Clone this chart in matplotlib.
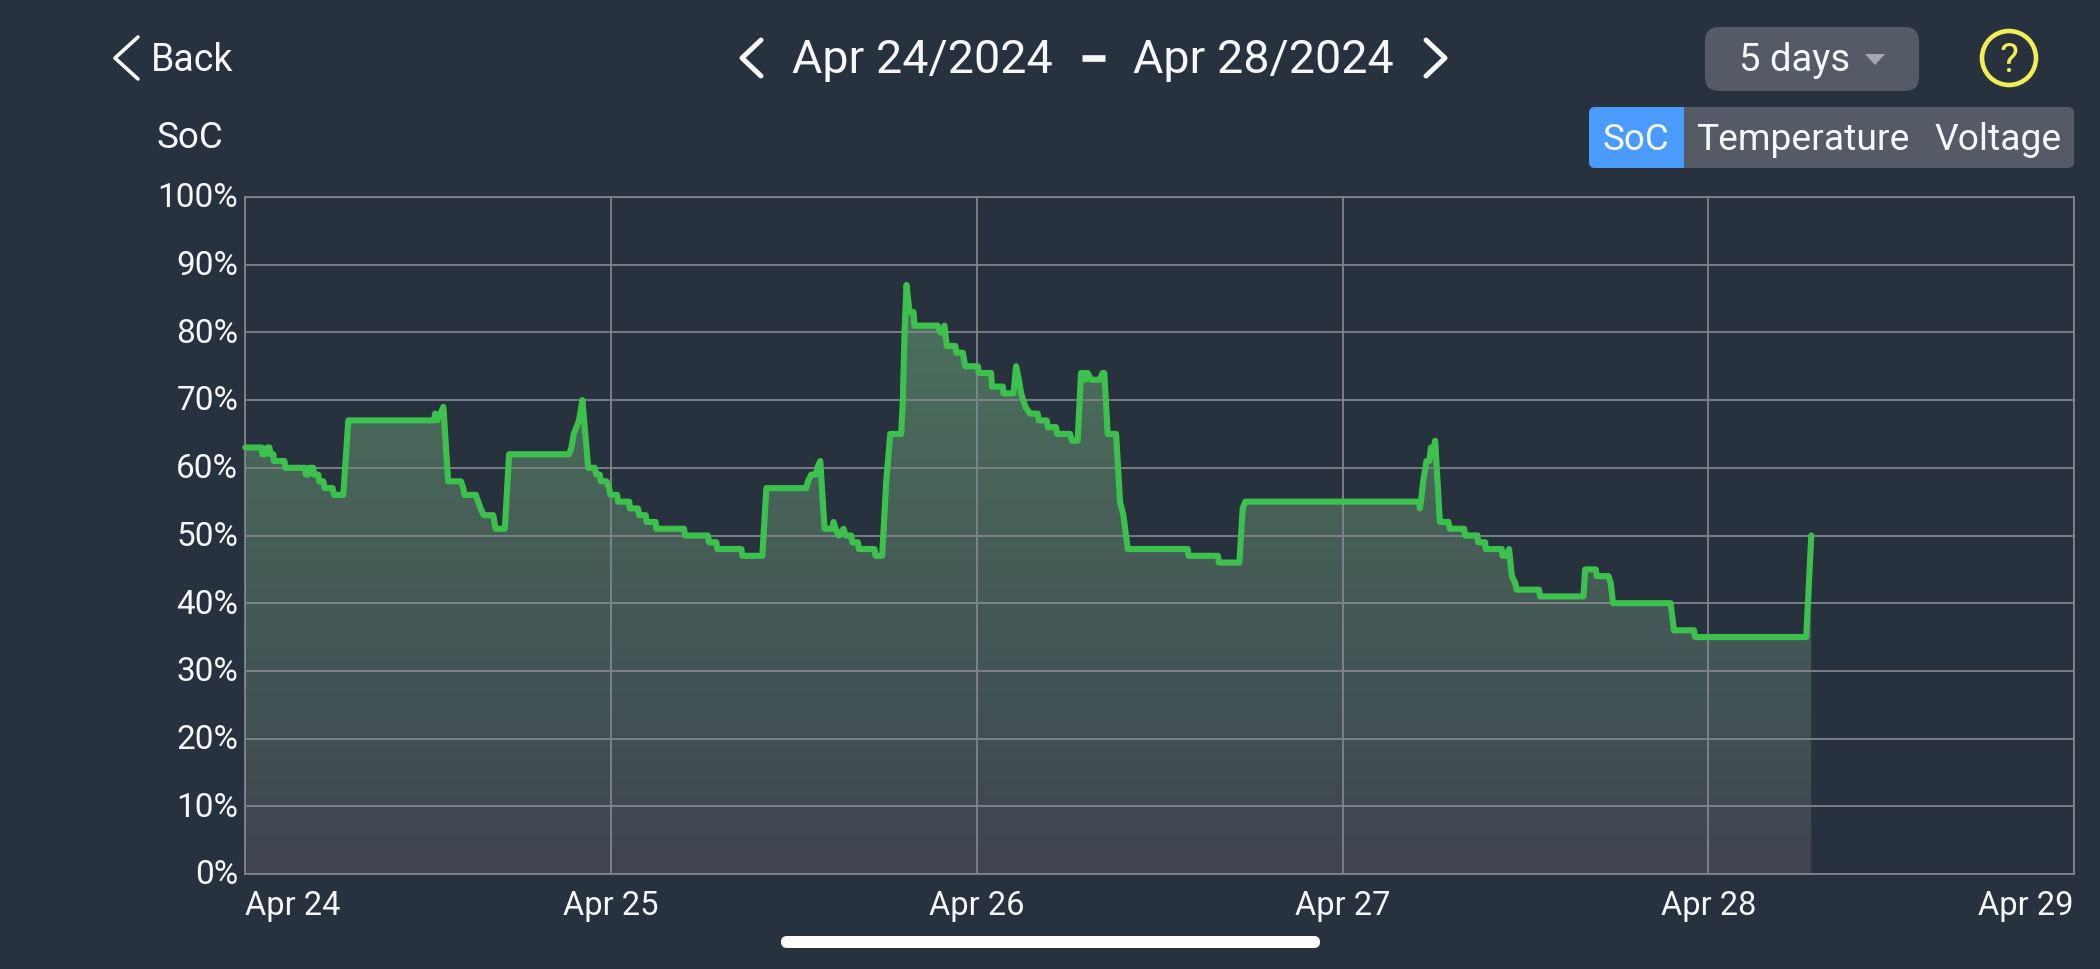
import numpy as np
import matplotlib
matplotlib.use('Agg')
import matplotlib.pyplot as plt
from matplotlib.patches import FancyBboxPatch, Rectangle, Circle, Polygon

# state of charge, hours counted from Apr 24 00:00
hours = [0.0, 1.07, 1.12, 1.31, 1.44, 1.58, 1.66, 1.84, 1.88, 2.56, 2.63, 3.92, 3.98, 4.13, 4.2, 4.46, 4.5, 4.79,
         4.85, 5.12, 5.2, 5.73, 5.82, 6.43, 6.76, 12.37, 12.46, 12.6, 12.8, 13.0, 13.31, 14.15, 14.3, 14.39, 15.13,
         15.28, 15.44, 15.65, 16.27, 16.42, 17.03, 17.31, 21.25, 21.4, 21.55, 21.73, 21.9, 22.12, 22.5, 22.93, 23.04,
         23.26, 23.33, 23.7, 23.87, 23.96, 24.4, 24.46, 25.19, 25.23, 25.77, 25.84, 26.28, 26.32, 26.93, 26.97, 28.79,
         28.85, 30.36, 30.43, 30.91, 30.97, 32.55, 32.61, 33.93, 34.19, 36.81, 36.92, 37.14, 37.47, 37.53, 37.73,
         38.01, 38.52, 38.6, 38.73, 38.95, 39.26, 39.39, 39.76, 39.83, 40.2, 40.26, 41.29, 41.36, 41.79, 42.06, 42.32,
         43.04, 43.15, 43.26, 43.39, 43.59, 43.85, 43.91, 45.44, 45.6, 45.73, 45.88, 46.03, 46.6, 46.65, 47.08, 47.24,
         48.07, 48.13, 48.94, 49.0, 49.71, 49.75, 50.41, 50.58, 50.76, 50.91, 51.19, 51.5, 52.0, 52.07, 52.59, 52.66,
         53.2, 53.27, 54.12, 54.25, 54.62, 54.84, 55.06, 55.13, 55.28, 55.5, 56.05, 56.26, 56.37, 56.59, 57.14, 57.4,
         57.62, 57.91, 61.84, 61.9, 63.83, 63.89, 65.23, 65.45, 65.62, 77.03, 77.07, 77.15, 77.29, 77.51, 77.7, 77.8,
         77.92, 78.08, 78.39, 78.95, 79.04, 79.98, 80.05, 80.86, 80.9, 81.36, 81.4, 82.45, 82.5, 82.76, 82.93, 83.11,
         83.33, 83.43, 84.9, 84.96, 87.81, 87.92, 88.62, 88.68, 89.45, 89.6, 89.75, 93.53, 93.69, 93.75, 95.06, 95.13,
         102.43, 102.76]
soc = [63, 63, 62, 62, 63, 63, 62, 62, 61, 61, 60, 60, 59, 59, 60, 60, 59, 59,
       58, 58, 57, 57, 56, 56, 67, 67, 68, 67, 68, 69, 58, 58, 57, 56, 56,
       55, 54, 53, 53, 51, 51, 62, 62, 63, 65, 66, 67, 70, 60, 60, 59,
       59, 58, 58, 57, 56, 56, 55, 55, 54, 54, 53, 53, 52, 52, 51, 51,
       50, 50, 49, 49, 48, 48, 47, 47, 57, 57, 58, 59, 59, 60, 61,
       51, 51, 52, 51, 50, 51, 50, 50, 49, 49, 48, 48, 47, 47, 58, 65,
       65, 70, 80, 87, 83, 83, 81, 81, 80, 80, 81, 78, 78, 77, 77, 75,
       75, 74, 74, 72, 72, 71, 71, 75, 73, 71, 69, 68, 68, 67, 67, 66,
       66, 65, 65, 64, 64, 74, 74, 73, 74, 73, 73, 74, 74, 65, 65, 55,
       53, 48, 48, 47, 47, 46, 46, 54, 55, 55, 54, 55, 58, 61, 61, 63,
       62, 64, 52, 52, 51, 51, 50, 50, 49, 49, 48, 48, 47, 47, 48, 44,
       43, 42, 42, 41, 41, 45, 45, 44, 44, 43, 40, 40, 37, 36, 36, 35,
       35, 50]

day_labels = ['Apr 24', 'Apr 25', 'Apr 26', 'Apr 27', 'Apr 28', 'Apr 29']
pct_ticks = list(range(0, 101, 10))

BG = '#28313e'
GRID = '#80858c'
GREEN = '#3cc24c'
PANEL = '#545a66'
WHITE = '#f6f7f8'

W, H = 2100, 969
plt.rcParams['font.family'] = ['Roboto', 'DejaVu Sans']

fig = plt.figure(figsize=(W / 100, H / 100), dpi=100, facecolor=BG)

# chart area
left, right, top, bottom = 245.3, 2074, 197, 874
ax = fig.add_axes([left / W, 1 - bottom / H, (right - left) / W, (bottom - top) / H], facecolor=BG)
ax.set_xlim(0, 120)
ax.set_ylim(0, 100)

# filled area fades from green to grey going down
grad = np.linspace(0, 1, 256).reshape(-1, 1)
c_top = np.array([0x4c, 0x73, 0x5d]) / 255
c_bot = np.array([0x3f, 0x44, 0x50]) / 255
# the fade spans 0-87%, the peak of the series
img = c_top + (c_bot - c_top) * grad[..., None]
im = ax.imshow(img, extent=[0, 120, 0, max(soc)], aspect='auto', zorder=1, origin='upper')
poly = Polygon(list(zip(hours, soc)) + [(hours[-1], 0), (hours[0], 0)], closed=True, transform=ax.transData,
               facecolor='none', edgecolor='none')
ax.add_patch(poly)
im.set_clip_path(poly)
ax.set_xlim(0, 120)
ax.set_ylim(0, 100)

ax.set_xticks(range(0, 121, 24))
ax.set_yticks(pct_ticks)
ax.grid(True, color=GRID, lw=1.3, zorder=2)
ax.set_axisbelow(False)
ax.tick_params(length=0, labelbottom=False, labelleft=False)
for s in ax.spines.values():
    s.set_color(GRID)
    s.set_linewidth(1.3)

ax.plot(hours, soc, color=GREEN, lw=4.4, solid_joinstyle='round', solid_capstyle='round', zorder=4, clip_on=False)

# y labels right aligned against the axis, x labels centred on their day
for p in pct_ticks:
    ax.annotate(f'{p}%', (0, p), xytext=(-5, -1), textcoords='offset points', ha='right', va='center',
                fontsize=24, color=WHITE)
for i, lab in enumerate(day_labels):
    ha = 'center'
    xoff = 0
    if i == 0:
        ha, xoff = 'left', 0
    if i == 5:
        ha, xoff = 'right', 0
    ax.annotate(lab, (i * 24, 0), xytext=(xoff, -23), textcoords='offset points', ha=ha, va='center',
                fontsize=23.5, color=WHITE)

# app controls around the chart, laid out in pixels
ui = fig.add_axes([0, 0, 1, 1], facecolor='none')
ui.set_xlim(0, W)
ui.set_ylim(H, 0)
ui.axis('off')


def chevron(x, y, w, h, direction, lw=3.2):
    ui.plot([x + direction * w, x, x + direction * w], [y - h, y, y + h], color=WHITE, lw=lw,
            solid_capstyle='round', solid_joinstyle='round')


def box(x0, y0, x1, y1, color, r=12):
    ui.add_patch(FancyBboxPatch((x0 + r, y0 + r), x1 - x0 - 2 * r, y1 - y0 - 2 * r,
                                boxstyle=f'round,pad={r},rounding_size={r}', fc=color, ec='none'))


chevron(115, 58, 23, 21, 1, lw=2.6)
ui.text(151, 60, 'Back', fontsize=27, color=WHITE, ha='left', va='center')
ui.text(190, 138, 'SoC', fontsize=26.5, color=WHITE, ha='center', va='center')

chevron(742, 58, 19, 18, 1, lw=3.6)
ui.text(792, 60, 'Apr 24/2024', fontsize=33.6, color=WHITE, ha='left', va='center')
ui.plot([1082, 1105], [58, 58], color=WHITE, lw=4.8, solid_capstyle='butt')
ui.text(1133, 60, 'Apr 28/2024', fontsize=33.6, color=WHITE, ha='left', va='center')
chevron(1445, 58, -19, 18, 1, lw=3.6)

box(1705, 27, 1919, 91, PANEL, r=14)
ui.text(1795, 60, '5 days', fontsize=27.5, color=WHITE, ha='center', va='center')
ui.add_patch(Polygon([(1865, 54), (1885, 54), (1875, 65)], closed=True, fc='#a5a8ae', ec='none'))

ui.add_patch(Circle((2009, 58), 27, fc='none', ec='#f2ee55', lw=3.3))
ui.text(2009, 60, '?', fontsize=29, color='#f2ee55', ha='center', va='center')

box(1589, 107, 2074, 168, PANEL, r=6)
box(1589, 107, 1690, 168, '#4a9bfb', r=6)
ui.add_patch(Rectangle((1680, 107), 4, 61, fc='#4a9bfb', ec='none'))
ui.add_patch(Rectangle((1684, 107), 8, 61, fc=PANEL, ec='none'))
ui.text(1636, 140, 'SoC', fontsize=26.5, color=WHITE, ha='center', va='center')
ui.text(1803, 140, 'Temperature', fontsize=26.8, color=WHITE, ha='center', va='center')
ui.text(1998, 140, 'Voltage', fontsize=26.8, color=WHITE, ha='center', va='center')

box(781, 936, 1320, 948, '#ffffff', r=6)

fig.savefig('out.png', dpi=100, facecolor=BG)
